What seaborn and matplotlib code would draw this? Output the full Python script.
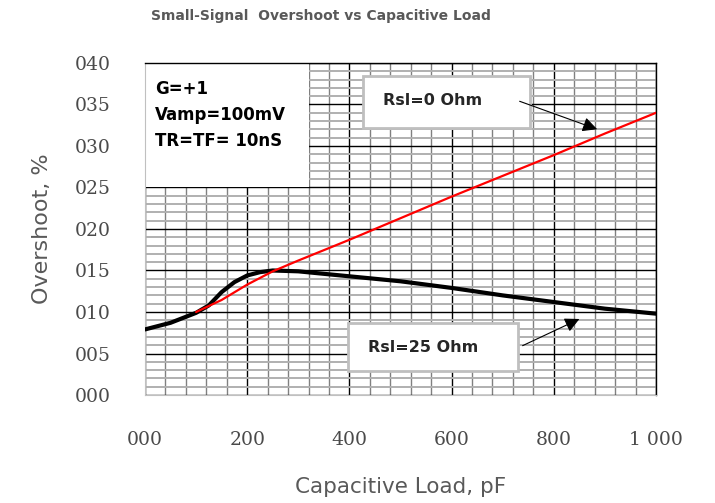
import numpy as np
import pandas as pd
import matplotlib
matplotlib.use("Agg")
import matplotlib.pyplot as plt
from matplotlib.patches import Rectangle
from matplotlib.ticker import MultipleLocator, FixedLocator
import seaborn as sns

# data
cap_25 = [0, 50, 100, 125, 150, 175, 200, 225, 250, 300, 400, 500, 600, 700, 800, 900, 1000]
over_25 = [0.0079, 0.0087, 0.0099, 0.0108, 0.0124, 0.0136, 0.0144, 0.0148, 0.0150, 0.0149,
           0.0143, 0.0137, 0.0129, 0.0120, 0.0112, 0.0104, 0.0098]
cap_0 = [100, 150, 200, 250, 300, 400, 500, 600, 700, 800, 900, 1000]
over_0 = [0.0100, 0.01145, 0.0133, 0.0149, 0.0162, 0.0187, 0.0213, 0.0239, 0.0264, 0.0289, 0.0315, 0.0340]
x_ticks = [0, 200, 400, 600, 800, 1000]
x_labels = ["000", "200", "400", "600", "800", "1 000"]
y_ticks = [0.000, 0.005, 0.010, 0.015, 0.020, 0.025, 0.030, 0.035, 0.040]
y_labels = ["000", "005", "010", "015", "020", "025", "030", "035", "040"]

sns.set_style("white")
plt.rcParams['font.family'] = ['DejaVu Sans']

fig = plt.figure(figsize=(7.15, 5.03), dpi=100)
ax = fig.add_axes([0.2028, 0.2147, 0.7147, 0.6601])

# grid
ax.set_axisbelow(True)
ax.xaxis.set_major_locator(FixedLocator(x_ticks))
ax.xaxis.set_minor_locator(MultipleLocator(40))
ax.yaxis.set_major_locator(FixedLocator(y_ticks))
ax.yaxis.set_minor_locator(MultipleLocator(0.001))
ax.xaxis.grid(True, which='minor', color='#808080', lw=1.0)
ax.yaxis.grid(True, which='minor', color='#b0b0b0', lw=1.4)
ax.grid(True, which='major', color='black', lw=1.0)

# white text area in top-left corner
ax.add_patch(Rectangle((0, 0.02506), 321, 0.015, facecolor='white', edgecolor='none', zorder=1))

sns.lineplot(x=cap_25, y=over_25, color='black', lw=3.0, ax=ax, zorder=3)
sns.lineplot(x=cap_0, y=over_0, color='#ff0000', lw=1.6, ax=ax, zorder=4)

ax.set_xlim(0, 1000)
ax.set_ylim(0, 0.040)
ax.set_xticklabels(x_labels, fontfamily='DejaVu Serif', fontsize=13.5, color='#4a4a4a')
ax.set_yticklabels(y_labels, fontfamily='DejaVu Serif', fontsize=13.5, color='#4a4a4a')
ax.tick_params(axis='both', which='both', length=0)
ax.tick_params(axis='x', pad=26)
ax.tick_params(axis='y', pad=25)

for s in ['left', 'bottom']:
    ax.spines[s].set_color('#c0c0c0')
for s in ['top', 'right']:
    ax.spines[s].set_color('black')
    ax.spines[s].set_linewidth(1.0)

ax.set_xlabel("Capacitive Load, pF", fontsize=15.5, color='#595959', labelpad=20)
ax.set_ylabel("Overshoot, %", fontsize=16, color='#595959', labelpad=16)
fig.text(0.449, 0.968, "Small-Signal  Overshoot vs Capacitive Load", ha='center', va='center',
         fontsize=10, fontweight='bold', color='#595959')

# condition text
ax.text(19, 0.0379, "G=+1\nVamp=100mV\nTR=TF= 10nS", ha='left', va='top', fontsize=12,
        fontweight='bold', color='black', linespacing=1.55, zorder=5)

# callouts
ax.add_patch(Rectangle((426.6, 0.03217), 326.4, 0.00626, facecolor='white', edgecolor='#bfbfbf',
                       lw=2, zorder=5))
ax.text(466, 0.0355, "Rsl=0 Ohm", ha='left', va='center', fontsize=11.5, fontweight='bold', zorder=6)
ax.annotate("", xy=(890, 0.0319), xytext=(728, 0.0355),
            arrowprops=dict(arrowstyle='-|>', color='black', lw=0.8, mutation_scale=22), zorder=6)

ax.add_patch(Rectangle((397, 0.00289), 333, 0.00578, facecolor='white', edgecolor='#bfbfbf',
                       lw=2, zorder=5))
ax.text(436, 0.00578, "Rsl=25 Ohm", ha='left', va='center', fontsize=11.5, fontweight='bold', zorder=6)
ax.annotate("", xy=(855, 0.0093), xytext=(734, 0.0058),
            arrowprops=dict(arrowstyle='-|>', color='black', lw=0.8, mutation_scale=22), zorder=6)

fig.savefig("out.png", dpi=100)
